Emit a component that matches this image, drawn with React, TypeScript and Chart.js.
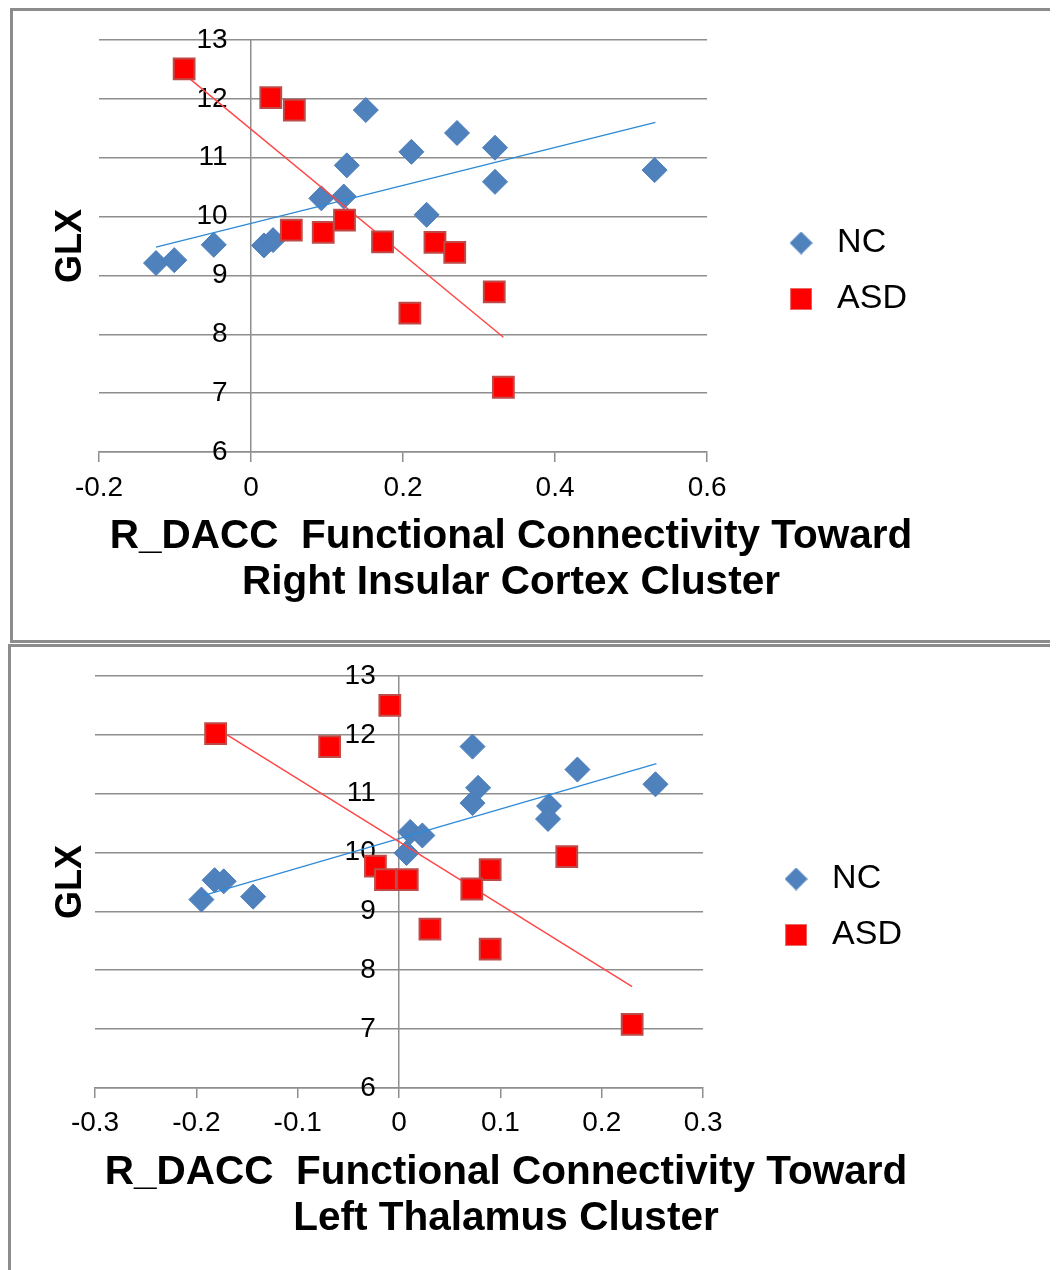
import React, { useEffect, useRef } from 'react';
import { Chart, registerables } from 'chart.js';

Chart.register(...registerables);

const FONT = "'Liberation Sans', Arial, Helvetica, sans-serif";
Chart.defaults.font.family = FONT;

// ---------- shared ----------
const seriesNames = ['NC', 'ASD'];
const yAxisTitle = 'GLX';
const yTickValues = [6, 7, 8, 9, 10, 11, 12, 13];
const yTickLabels = ['6', '7', '8', '9', '10', '11', '12', '13'];

// ---------- top chart: Right Insular Cortex Cluster ----------
const insulaTitle = ['R_DACC  Functional Connectivity Toward', 'Right Insular Cortex Cluster'];
const insulaXTickValues = [-0.2, 0, 0.2, 0.4, 0.6];
const insulaXTickLabels = ['-0.2', '0', '0.2', '0.4', '0.6'];
const insulaNcX = [-0.125, -0.101, -0.049, 0.017, 0.029, 0.0925, 0.122, 0.126, 0.151, 0.211, 0.271, 0.321, 0.321, 0.231, 0.531];
const insulaNcY = [9.21, 9.26, 9.52, 9.51, 9.6, 10.31, 10.34, 10.87, 11.81, 11.1, 11.42, 11.17, 10.59, 10.03, 10.79];
const insulaAsdX = [-0.088, 0.026, 0.057, 0.053, 0.095, 0.123, 0.173, 0.242, 0.268, 0.209, 0.32, 0.332];
const insulaAsdY = [12.51, 12.02, 11.81, 9.77, 9.73, 9.94, 9.57, 9.56, 9.39, 8.36, 8.72, 7.1];
const insulaNcTrendX = [-0.125, 0.532];
const insulaNcTrendY = [9.48, 11.6];
const insulaAsdTrendX = [-0.088, 0.332];
const insulaAsdTrendY = [12.42, 7.95];

// ---------- bottom chart: Left Thalamus Cluster ----------
const thalTitle = ['R_DACC  Functional Connectivity Toward', 'Left Thalamus Cluster'];
const thalXTickValues = [-0.3, -0.2, -0.1, 0, 0.1, 0.2, 0.3];
const thalXTickLabels = ['-0.3', '-0.2', '-0.1', '0', '0.1', '0.2', '0.3'];
const thalNcX = [-0.195, -0.182, -0.173, -0.144, 0.0074, 0.011, 0.023, 0.0725, 0.078, 0.0725, 0.148, 0.147, 0.176, 0.253];
const thalNcY = [9.2, 9.53, 9.51, 9.25, 9.99, 10.35, 10.29, 11.8, 11.1, 10.84, 10.79, 10.57, 11.41, 11.16];
const thalAsdX = [-0.181, -0.0685, -0.0091, -0.0233, -0.0134, 0.0081, 0.0305, 0.0899, 0.0718, 0.0899, 0.1655, 0.23];
const thalAsdY = [12.02, 11.8, 12.5, 9.77, 9.54, 9.54, 8.7, 9.71, 9.38, 8.36, 9.93, 7.08];
const thalNcTrendX = [-0.195, 0.254];
const thalNcTrendY = [9.26, 11.51];
const thalAsdTrendX = [-0.18, 0.23];
const thalAsdTrendY = [12.11, 7.72];

const NC_BLUE = '#4F81BD';
const ASD_RED = '#FF0000';
const GRID = '#8e8e8e';
const TITLE_SIZE = 40.5;
const TITLE_LH = 46;
const GLX_SIZE = 36;

const pts = (xs: number[], ys: number[]) => xs.map((x, i) => ({ x, y: ys[i] }));

function makeDiamond(d: number, color: string) {
  const c = document.createElement('canvas');
  c.width = d;
  c.height = d;
  const g = c.getContext('2d')!;
  g.fillStyle = color;
  g.beginPath();
  g.moveTo(d / 2, 0);
  g.lineTo(d, d / 2);
  g.lineTo(d / 2, d);
  g.lineTo(0, d / 2);
  g.closePath();
  g.fill();
  return c;
}

function makeSquare(s: number, color: string, edge: string) {
  const c = document.createElement('canvas');
  c.width = s;
  c.height = s;
  const g = c.getContext('2d')!;
  g.fillStyle = edge;
  g.fillRect(0, 0, s, s);
  g.fillStyle = color;
  g.fillRect(1, 1, s - 2, s - 2);
  return c;
}

type PanelSpec = {
  ncX: number[]; ncY: number[]; asdX: number[]; asdY: number[];
  ncTX: number[]; ncTY: number[]; asdTX: number[]; asdTY: number[];
  xMin: number; xMax: number; xTicks: number[]; xLabels: string[];
  title: string[];
  titleCenterX: number;
  glxCenterX: number;
  width: number; height: number;
  pad: { left: number; right: number; top: number; bottom: number };
  gapRight: number;
};

function ScatterPanel({ spec }: { spec: PanelSpec }) {
  const ref = useRef<HTMLCanvasElement | null>(null);
  useEffect(() => {
    if (!ref.current) return;
    const diamond = makeDiamond(23, NC_BLUE);
    const square = makeSquare(22, ASD_RED, '#e86a6a');
    // axis titles: the x title is wider than the plot and centred under the panel,
    // the y title sits left of the plot area; both drawn in space reserved by the layout
    const axisTitlePlugin = {
      id: 'axisTitles',
      afterDraw(chart: any) {
        const s = chart.scales.x;
        const area = chart.chartArea;
        const ctx = chart.ctx;
        const n = spec.title.length;
        ctx.save();
        ctx.fillStyle = '#000';
        ctx.textAlign = 'center';
        ctx.textBaseline = 'middle';
        ctx.font = `bold ${TITLE_SIZE}px ${FONT}`;
        spec.title.forEach((line, i) => {
          const y = s.bottom - TITLE_LH / 2 - TITLE_LH * (n - 1 - i);
          ctx.fillText(line, spec.titleCenterX, y);
        });
        ctx.translate(spec.glxCenterX, (area.top + area.bottom) / 2);
        ctx.rotate(-Math.PI / 2);
        ctx.font = `bold ${GLX_SIZE}px ${FONT}`;
        ctx.fillText(yAxisTitle, 0, 0);
        ctx.restore();
      },
    };
    const chart = new Chart(ref.current, {
      type: 'scatter',
      data: {
        datasets: [
          {
            label: seriesNames[0], data: pts(spec.ncX, spec.ncY), xAxisID: 'x', yAxisID: 'y',
            pointStyle: 'rectRot', pointRadius: 12.5, pointHoverRadius: 12.5,
            backgroundColor: NC_BLUE, borderColor: '#4a7dba', borderWidth: 1, order: 4,
          },
          {
            label: seriesNames[1], data: pts(spec.asdX, spec.asdY), xAxisID: 'x', yAxisID: 'y',
            pointStyle: 'rect', pointRadius: 14.7, pointHoverRadius: 14.7,
            backgroundColor: ASD_RED, borderColor: '#BE4B48', borderWidth: 2, order: 1,
          },
          {
            label: 'NC trend', data: pts(spec.ncTX, spec.ncTY), xAxisID: 'x', yAxisID: 'y',
            showLine: true, pointRadius: 0, pointHoverRadius: 0,
            borderColor: '#2e8ad8', borderWidth: 1.4, order: 3,
          },
          {
            label: 'ASD trend', data: pts(spec.asdTX, spec.asdTY), xAxisID: 'x', yAxisID: 'y',
            showLine: true, pointRadius: 0, pointHoverRadius: 0,
            borderColor: '#ff4545', borderWidth: 1.4, order: 2,
          },
        ],
      },
      options: {
        responsive: false,
        animation: false,
        events: [],
        layout: { padding: spec.pad },
        plugins: {
          tooltip: { enabled: false },
          legend: {
            position: 'right',
            align: 'start',
            fullSize: false,
            title: { display: true, text: ' ', font: { size: 10, lineHeight: 1 }, padding: { top: 154, bottom: 0 } },
            labels: {
              usePointStyle: true,
              pointStyleWidth: 38,
              boxHeight: 22,
              padding: 22,
              color: '#000',
              font: { size: 34, family: FONT },
              generateLabels: (c: any) => {
                const items = Chart.defaults.plugins.legend.labels.generateLabels(c);
                return items
                  .filter((it: any) => it.datasetIndex < 2)
                  .sort((a: any, b: any) => a.datasetIndex - b.datasetIndex)
                  .map((it: any) => ({ ...it, pointStyle: it.datasetIndex === 0 ? diamond : square }));
              },
            },
          },
        },
        scales: {
          x: {
            type: 'linear', position: 'bottom', min: spec.xMin, max: spec.xMax,
            afterBuildTicks: (s: any) => { s.ticks = spec.xTicks.map((v) => ({ value: v })); },
            ticks: {
              autoSkip: false, maxRotation: 0, padding: 9, color: '#000',
              font: { size: 28, family: FONT },
              callback: (v: any) => {
                const i = spec.xTicks.findIndex((t) => Math.abs(t - Number(v)) < 1e-9);
                return i >= 0 ? spec.xLabels[i] : '';
              },
            },
            grid: { display: true, drawOnChartArea: false, drawTicks: true, tickLength: 10, color: GRID, lineWidth: 1.5 },
            border: { display: true, color: GRID, width: 1.5 },
            // reserves the two-line title band; the visible text is drawn by axisTitlePlugin
            title: {
              display: true, text: spec.title, color: 'rgba(0,0,0,0)',
              font: { size: TITLE_SIZE, weight: 'bold', lineHeight: TITLE_LH / TITLE_SIZE, family: FONT },
              padding: { top: 0, bottom: 0 },
            },
          },
          y: {
            type: 'linear', position: { x: 0 } as any, min: 6, max: 13,
            afterBuildTicks: (s: any) => { s.ticks = yTickValues.map((v) => ({ value: v })); },
            ticks: {
              color: '#000', font: { size: 28, family: FONT },
              callback: (v: any) => {
                const i = yTickValues.indexOf(Number(v));
                return (i >= 0 ? yTickLabels[i] : '') + '   ';
              },
            },
            grid: { color: GRID, lineWidth: 1.5, drawTicks: false },
            border: { display: true, color: GRID, width: 1.5 },
          },
          // invisible spacer between plot area and legend
          yPad: {
            type: 'linear', position: 'right', display: false,
            afterFit: (s: any) => { s.width = spec.gapRight; },
          },
        },
      } as any,
      plugins: [axisTitlePlugin],
    });
    return () => chart.destroy();
  }, [spec]);
  return (
    <canvas
      ref={ref}
      width={spec.width}
      height={spec.height}
      style={{ position: 'absolute', left: 0, top: 0, width: spec.width, height: spec.height }}
    />
  );
}

const topSpec: PanelSpec = {
  ncX: insulaNcX, ncY: insulaNcY, asdX: insulaAsdX, asdY: insulaAsdY,
  ncTX: insulaNcTrendX, ncTY: insulaNcTrendY, asdTX: insulaAsdTrendX, asdTY: insulaAsdTrendY,
  xMin: -0.2, xMax: 0.6, xTicks: insulaXTickValues, xLabels: insulaXTickLabels,
  title: insulaTitle,
  titleCenterX: 498,
  glxCenterX: 58,
  width: 1030, height: 629,
  pad: { left: 86, right: 126, top: 29, bottom: 34.4 },
  gapRight: 53,
};

const bottomSpec: PanelSpec = {
  ncX: thalNcX, ncY: thalNcY, asdX: thalAsdX, asdY: thalAsdY,
  ncTX: thalNcTrendX, ncTY: thalNcTrendY, asdTX: thalAsdTrendX, asdTY: thalAsdTrendY,
  xMin: -0.3, xMax: 0.3, xTicks: thalXTickValues, xLabels: thalXTickLabels,
  title: thalTitle,
  titleCenterX: 495,
  glxCenterX: 60,
  width: 1030, height: 640,
  pad: { left: 84, right: 129, top: 29, bottom: 45.5 },
  gapRight: 52,
};

export default function App() {
  useEffect(() => {
    document.documentElement.style.overflow = 'hidden';
    document.body.style.overflow = 'hidden';
  }, []);
  const panelBorder = '3px solid #8c8c8c';
  return (
    <div style={{ position: 'relative', width: 1050, height: 1262, overflow: 'hidden', background: '#fff' }}>
      <div style={{ position: 'absolute', left: 2, top: 0, width: 1060, height: 635, border: panelBorder, boxSizing: 'border-box', background: '#fff' }}>
        <ScatterPanel spec={topSpec} />
      </div>
      <div style={{ position: 'absolute', left: 0, top: 636, width: 1060, height: 700, border: panelBorder, boxSizing: 'border-box', background: '#fff' }}>
        <ScatterPanel spec={bottomSpec} />
      </div>
    </div>
  );
}
